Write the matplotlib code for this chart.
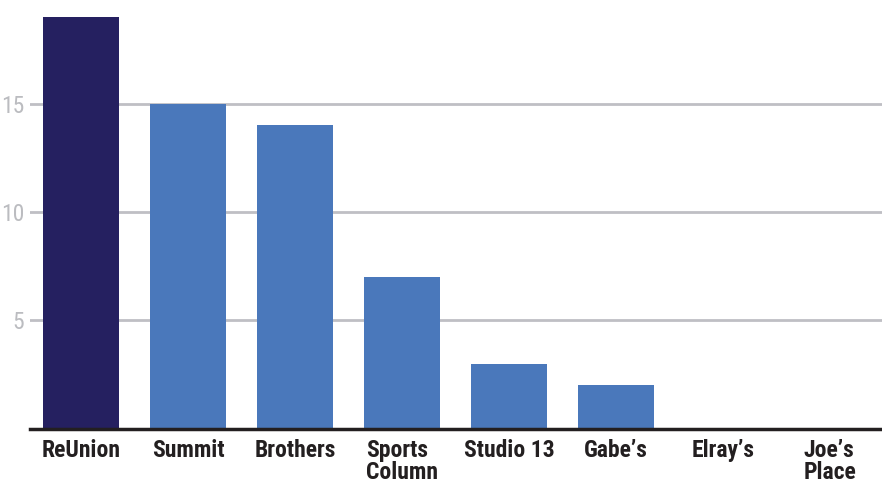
import matplotlib
matplotlib.use("Agg")
from matplotlib import pyplot as plt
from matplotlib import font_manager as fm

venues = ["ReUnion", "Summit", "Brothers", "Sports\nColumn", "Studio 13",
          "Gabe\u2019s", "Elray\u2019s", "Joe\u2019s\nPlace"]
counts = [19, 15, 14, 7, 3, 2, 0, 0]
colors = ["#252060"] + ["#4a78bb"] * 7
yticks = [5, 10, 15]

# look for a condensed face; fall back to Roboto at a smaller size
fam, stretch, xsize, ysize = "Roboto", "normal", 15, 15
for cand in ["Roboto Condensed", "Open Sans Condensed", "Liberation Sans Narrow",
             "Roboto", "DejaVu Sans", "Noto Sans"]:
    fp = fm.FontProperties(family=cand, stretch="condensed", weight="bold")
    low = fm.findfont(fp).lower()
    if ("condensed" in low or "narrow" in low) and "bold" in low:
        fam, stretch, xsize, ysize = cand, "condensed", 17, 17
        break

fig = plt.figure(figsize=(8.82, 4.94), dpi=100)
ax = fig.add_axes([0.034, 0.132, 0.966, 0.834])

ax.bar(range(len(venues)), counts, width=0.71, color=colors, zorder=3)

ax.set_ylim(0, 19)
ax.set_xlim(-0.48, 7.49)
ax.set_yticks(yticks)
ax.yaxis.grid(True, color="#bfbfc4", linewidth=2, zorder=0)
ax.tick_params(axis="y", length=0, pad=4)
ax.tick_params(axis="x", length=0, pad=7)
ax.set_xticks(range(len(venues)))
ax.set_xticklabels(venues, linespacing=0.95, multialignment="left", va="top")
for lbl in ax.get_xticklabels():
    lbl.set_family(fam)
    lbl.set_stretch(stretch)
    lbl.set_fontsize(xsize)
    lbl.set_fontweight("bold")
    lbl.set_color("#231f20")
for lbl in ax.get_yticklabels():
    lbl.set_family(fam)
    lbl.set_stretch(stretch)
    lbl.set_fontsize(ysize)
    lbl.set_color("#bbbcc0")

for s in ["top", "right", "left"]:
    ax.spines[s].set_visible(False)
ax.spines["bottom"].set_color("#231f20")
ax.spines["bottom"].set_linewidth(2.5)
ax.spines["bottom"].set_zorder(4)

fig.savefig("out.png", dpi=100)
